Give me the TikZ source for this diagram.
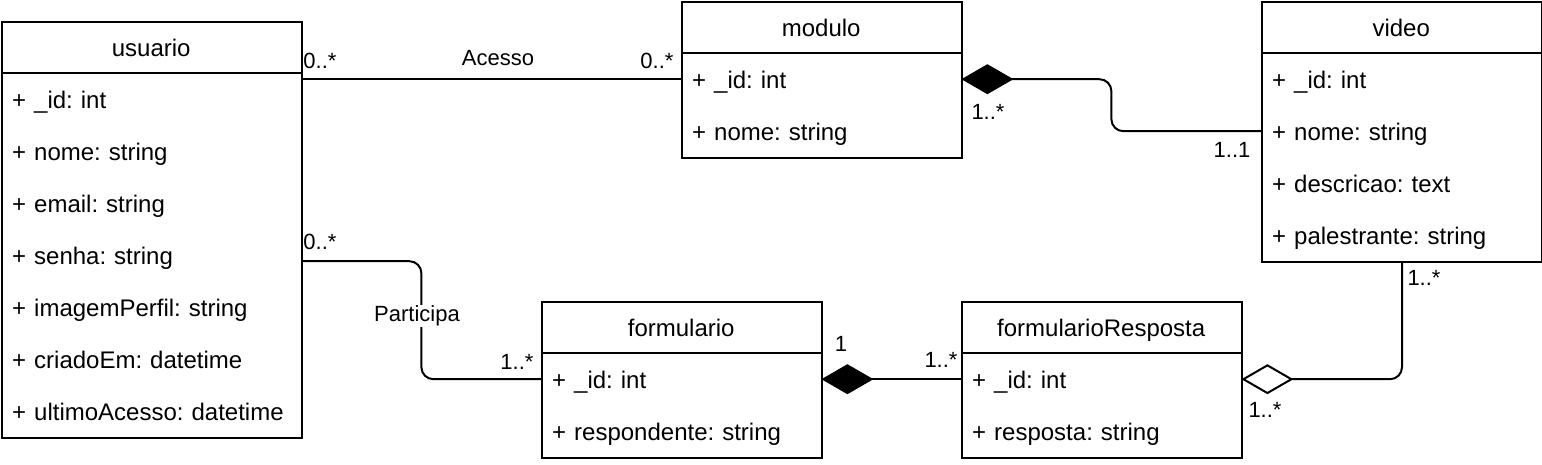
\documentclass[tikz,border=0pt]{standalone}
\usepackage{fontspec}
\setmainfont{Liberation Sans}
\usetikzlibrary{arrows.meta}
\frenchspacing
\begin{document}
\begin{tikzpicture}[x=1pt,y=-1pt,
  box/.style={draw=black,line width=2pt,minimum width=280pt,anchor=north west,inner sep=0pt},
  hdr/.style={minimum width=280pt,minimum height=52pt,anchor=north west,inner sep=0pt,text height=22pt,text depth=4pt,font=\fontsize{24}{28}\selectfont},
  row/.style={minimum height=52pt,anchor=north west,inner xsep=11pt,inner ysep=0pt,text width=258pt,align=left,text height=22pt,text depth=4pt,font=\fontsize{24}{28}\selectfont},
  lbl/.style={inner sep=1pt,font=\fontsize{22}{26}\selectfont},
  conn/.style={line width=2pt,rounded corners=12pt},
  comp/.style={{Diamond[length=52pt,width=30pt]}-},
  aggr/.style={{Diamond[open,length=52pt,width=30pt]}-}
]
\useasboundingbox (0,0) rectangle (1542,464);
% usuario
\node[box,minimum width=300pt,minimum height=416pt] (usuario) at (1,21) {};
\node[hdr,minimum width=300pt] (usuarioH) at (1,21) {usuario};
\draw[line width=2pt] (usuarioH.south west) -- (usuarioH.south east);
\node[row,text width=278pt] (u1) at (1,73) {+ \_id: int};
\node[row,text width=278pt] (u2) at (1,125) {+ nome: string};
\node[row,text width=278pt] (u3) at (1,177) {+ email: string};
\node[row,text width=278pt] (u4) at (1,229) {+ senha: string};
\node[row,text width=278pt] (u5) at (1,281) {+ imagemPerfil: string};
\node[row,text width=278pt] (u6) at (1,333) {+ criadoEm: datetime};
\node[row,text width=278pt] (u7) at (1,385) {+ ultimoAcesso: datetime};
% modulo
\node[box,minimum height=156pt] (modulo) at (681,1) {};
\node[hdr] (moduloH) at (681,1) {modulo};
\draw[line width=2pt] (moduloH.south west) -- (moduloH.south east);
\node[row] (m1) at (681,53) {+ \_id: int};
\node[row] (m2) at (681,105) {+ nome: string};
% video
\node[box,minimum height=260pt] (video) at (1261,1) {};
\node[hdr] (videoH) at (1261,1) {video};
\draw[line width=2pt] (videoH.south west) -- (videoH.south east);
\node[row] (v1) at (1261,53) {+ \_id: int};
\node[row] (v2) at (1261,105) {+ nome: string};
\node[row] (v3) at (1261,157) {+ descricao: text};
\node[row] (v4) at (1261,209) {+ palestrante: string};
% formulario
\node[box,minimum height=156pt] (formulario) at (541,301) {};
\node[hdr] (formularioH) at (541,301) {formulario};
\draw[line width=2pt] (formularioH.south west) -- (formularioH.south east);
\node[row] (f1) at (541,353) {+ \_id: int};
\node[row] (f2) at (541,405) {+ respondente: string};
% formularioResposta
\node[box,minimum height=156pt] (resposta) at (961,301) {};
\node[hdr] (respostaH) at (961,301) {formularioResposta};
\draw[line width=2pt] (respostaH.south west) -- (respostaH.south east);
\node[row] (r1) at (961,353) {+ \_id: int};
\node[row] (r2) at (961,405) {+ resposta: string};

% connectors
\draw[conn] (usuario.east |- m1.west) -- (m1.west);
\node[lbl] at (320,61) {0..*};
\node[lbl] at (498,58) {Acesso};
\node[lbl] at (657,61) {0..*};

\draw[conn,comp] (m1.east) -- ++(150,0) |- (v2.west);
\node[lbl] at (988,112) {1..*};
\node[lbl] at (1232,150) {1..1};

\draw[conn] ([yshift=-6pt]u4.east) -- ++(120,0) |- (f1.west);
\node[lbl] at (320,242) {0..*};
\node[lbl,fill=white] at (417,316) {Participa};
\node[lbl] at (517,362) {1..*};

\draw[conn,comp] (f1.east) -- (r1.west);
\node[lbl] at (841,344) {1};
\node[lbl] at (941,360) {1..*};

\draw[conn,aggr] (r1.east) -| (video.south);
\node[lbl] at (1424,278) {1..*};
\node[lbl] at (1265,410) {1..*};
\end{tikzpicture}
\end{document}
